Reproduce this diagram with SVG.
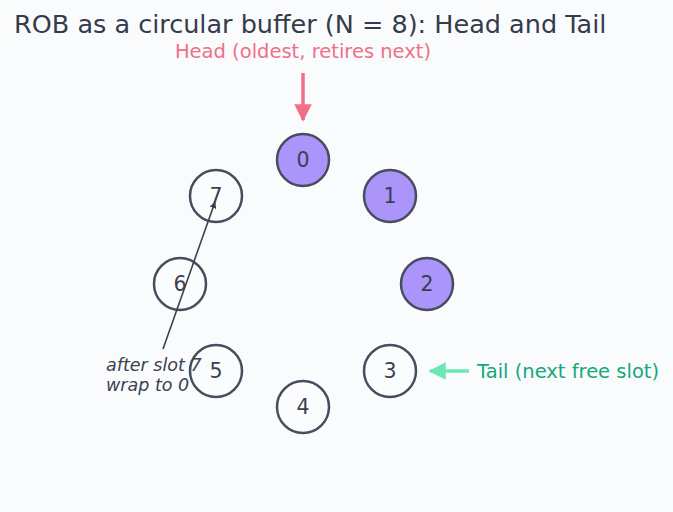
<svg xmlns="http://www.w3.org/2000/svg" width="673" height="512" viewBox="0 0 673 512">
<style>
text{font-family:"DejaVu Sans","Liberation Sans",sans-serif}
.slot{stroke:#464e5e;stroke-width:2.5;fill:#fbfcfe}
.used{fill:#ab94fa}
.lbl{font-size:20.5px;fill:#3a4150;text-anchor:middle;dominant-baseline:central}
</style>
<defs>
<marker id="ah" viewBox="0 0 10 10" refX="9" refY="5" markerWidth="7" markerHeight="7" markerUnits="userSpaceOnUse" orient="auto"><path d="M0,0L10,5L0,10z" fill="#3a4150"/></marker>
<marker id="ahp" viewBox="0 0 10 10" refX="9" refY="5" markerWidth="5" markerHeight="5" orient="auto"><path d="M0,0L10,5L0,10z" fill="#f07088"/></marker>
<marker id="ahg" viewBox="0 0 10 10" refX="9" refY="5" markerWidth="5" markerHeight="5" orient="auto"><path d="M0,0L10,5L0,10z" fill="#6ee7b7"/></marker>
</defs>
<rect width="673" height="512" fill="#fafbfd"/>
<text x="14" y="33" font-size="25.5" fill="#343c4b">ROB as a circular buffer (N = 8): Head and Tail</text>
<text x="303" y="58" font-size="19.5" fill="#f07088" text-anchor="middle">Head (oldest, retires next)</text>
<g id="connectors">
<line x1="303" y1="73" x2="303" y2="120" stroke="#f07088" stroke-width="3.5" marker-end="url(#ahp)"/>
<line x1="469" y1="371" x2="430" y2="371" stroke="#6ee7b7" stroke-width="3.5" marker-end="url(#ahg)"/>
</g>
<g id="n0"><circle class="slot used" cx="303" cy="160" r="26"/><text class="lbl" x="303" y="160">0</text></g>
<g id="n1"><circle class="slot used" cx="390" cy="196" r="26"/><text class="lbl" x="390" y="196">1</text></g>
<g id="n2"><circle class="slot used" cx="427" cy="284" r="26"/><text class="lbl" x="427" y="284">2</text></g>
<g id="n3"><circle class="slot" cx="390" cy="371" r="26"/><text class="lbl" x="390" y="371">3</text></g>
<g id="n4"><circle class="slot" cx="303" cy="407" r="26"/><text class="lbl" x="303" y="407">4</text></g>
<g id="n5"><circle class="slot" cx="216" cy="371" r="26"/><text class="lbl" x="216" y="371">5</text></g>
<g id="n6"><circle class="slot" cx="180" cy="284" r="26"/><text class="lbl" x="180" y="284">6</text></g>
<g id="n7"><circle class="slot" cx="216" cy="196" r="26"/><text class="lbl" x="216" y="196">7</text></g>
<text x="477" y="378" font-size="19.5" fill="#14a87a">Tail (next free slot)</text>
<g id="wrap">
<line x1="163" y1="349" x2="215" y2="202" stroke="#3a4150" stroke-width="1.6" marker-end="url(#ah)"/>
<text x="106" y="371" font-size="17.5" font-style="italic" fill="#3a4150">after slot 7</text>
<text x="106" y="391" font-size="17.5" font-style="italic" fill="#3a4150">wrap to 0</text>
</g>
</svg>
